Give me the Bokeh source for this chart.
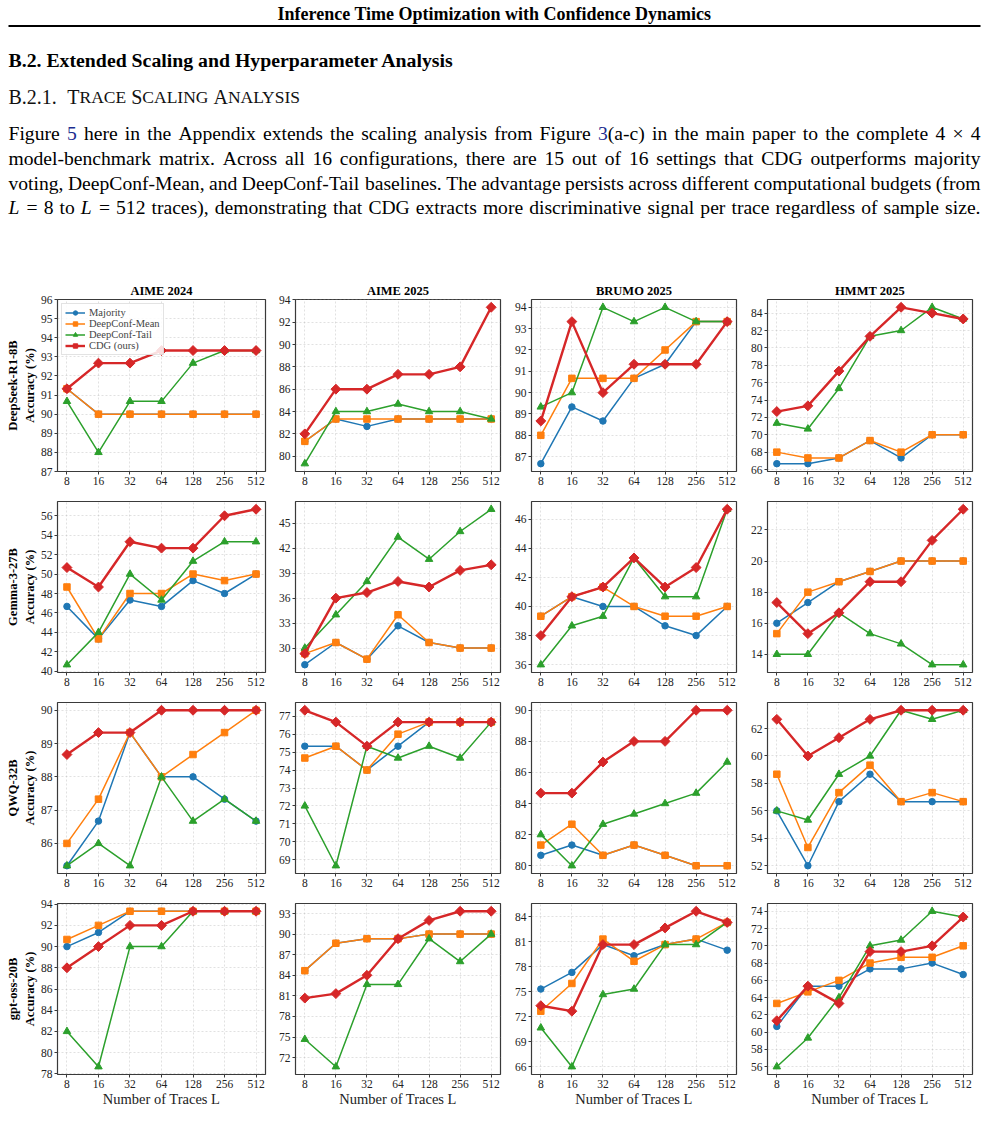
import math
import re

from bokeh.core.properties import value
from bokeh.embed import file_html
from bokeh.layouts import column, row
from bokeh.models import (FixedTicker, PrintfTickFormatter, Range1d,
                          SingleIntervalTicker, Title)
from bokeh.plotting import figure
from bokeh.resources import INLINE

# ---------------------------------------------------------------- data
TRACES = [8, 16, 32, 64, 128, 256, 512]
METHODS = ["Majority", "DeepConf-Mean", "DeepConf-Tail", "CDG (ours)"]
MODELS = ["DeepSeek-R1-8B", "Gemma-3-27B", "QWQ-32B", "gpt-oss-20B"]
BENCHMARKS = ["AIME 2024", "AIME 2025", "BRUMO 2025", "HMMT 2025"]

# DeepSeek-R1-8B
deepseek_aime24 = {
    "Majority":      [91.33, 90.0, 90.0, 90.0, 90.0, 90.0, 90.0],
    "DeepConf-Mean": [91.33, 90.0, 90.0, 90.0, 90.0, 90.0, 90.0],
    "DeepConf-Tail": [90.67, 88.0, 90.67, 90.67, 92.67, 93.33, 93.33],
    "CDG (ours)":    [91.33, 92.67, 92.67, 93.33, 93.33, 93.33, 93.33],
}
deepseek_aime25 = {
    "Majority":      [81.33, 83.33, 82.67, 83.33, 83.33, 83.33, 83.33],
    "DeepConf-Mean": [81.33, 83.33, 83.33, 83.33, 83.33, 83.33, 83.33],
    "DeepConf-Tail": [79.33, 84.0, 84.0, 84.67, 84.0, 84.0, 83.33],
    "CDG (ours)":    [82.0, 86.0, 86.0, 87.33, 87.33, 88.0, 93.33],
}
deepseek_brumo25 = {
    "Majority":      [86.67, 89.33, 88.67, 90.67, 91.33, 93.33, 93.33],
    "DeepConf-Mean": [88.0, 90.67, 90.67, 90.67, 92.0, 93.33, 93.33],
    "DeepConf-Tail": [89.33, 90.0, 94.0, 93.33, 94.0, 93.33, 93.33],
    "CDG (ours)":    [88.67, 93.33, 90.0, 91.33, 91.33, 91.33, 93.33],
}
deepseek_hmmt25 = {
    "Majority":      [66.67, 66.67, 67.33, 69.33, 67.33, 70.0, 70.0],
    "DeepConf-Mean": [68.0, 67.33, 67.33, 69.33, 68.0, 70.0, 70.0],
    "DeepConf-Tail": [71.33, 70.67, 75.33, 81.33, 82.0, 84.67, 83.33],
    "CDG (ours)":    [72.67, 73.33, 77.33, 81.33, 84.67, 84.0, 83.33],
}

# Gemma-3-27B
gemma_aime24 = {
    "Majority":      [46.67, 43.33, 47.33, 46.67, 49.33, 48.0, 50.0],
    "DeepConf-Mean": [48.67, 43.33, 48.0, 48.0, 50.0, 49.33, 50.0],
    "DeepConf-Tail": [40.67, 44.0, 50.0, 47.33, 51.33, 53.33, 53.33],
    "CDG (ours)":    [50.67, 48.67, 53.33, 52.67, 52.67, 56.0, 56.67],
}
gemma_aime25 = {
    "Majority":      [28.0, 30.67, 28.67, 32.67, 30.67, 30.0, 30.0],
    "DeepConf-Mean": [29.33, 30.67, 28.67, 34.0, 30.67, 30.0, 30.0],
    "DeepConf-Tail": [30.0, 34.0, 38.0, 43.33, 40.67, 44.0, 46.67],
    "CDG (ours)":    [29.33, 36.0, 36.67, 38.0, 37.33, 39.33, 40.0],
}
gemma_brumo25 = {
    "Majority":      [39.33, 40.67, 40.0, 40.0, 38.67, 38.0, 40.0],
    "DeepConf-Mean": [39.33, 40.67, 41.33, 40.0, 39.33, 39.33, 40.0],
    "DeepConf-Tail": [36.0, 38.67, 39.33, 43.33, 40.67, 40.67, 46.67],
    "CDG (ours)":    [38.0, 40.67, 41.33, 43.33, 41.33, 42.67, 46.67],
}
gemma_hmmt25 = {
    "Majority":      [16.0, 17.33, 18.67, 19.33, 20.0, 20.0, 20.0],
    "DeepConf-Mean": [15.33, 18.0, 18.67, 19.33, 20.0, 20.0, 20.0],
    "DeepConf-Tail": [14.0, 14.0, 16.67, 15.33, 14.67, 13.33, 13.33],
    "CDG (ours)":    [17.33, 15.33, 16.67, 18.67, 18.67, 21.33, 23.33],
}

# QWQ-32B
qwq_aime24 = {
    "Majority":      [85.33, 86.67, 89.33, 88.0, 88.0, 87.33, 86.67],
    "DeepConf-Mean": [86.0, 87.33, 89.33, 88.0, 88.67, 89.33, 90.0],
    "DeepConf-Tail": [85.33, 86.0, 85.33, 88.0, 86.67, 87.33, 86.67],
    "CDG (ours)":    [88.67, 89.33, 89.33, 90.0, 90.0, 90.0, 90.0],
}
qwq_aime25 = {
    "Majority":      [75.33, 75.33, 74.0, 75.33, 76.67, 76.67, 76.67],
    "DeepConf-Mean": [74.67, 75.33, 74.0, 76.0, 76.67, 76.67, 76.67],
    "DeepConf-Tail": [72.0, 68.67, 75.33, 74.67, 75.33, 74.67, 76.67],
    "CDG (ours)":    [77.33, 76.67, 75.33, 76.67, 76.67, 76.67, 76.67],
}
qwq_brumo25 = {
    "Majority":      [80.67, 81.33, 80.67, 81.33, 80.67, 80.0, 80.0],
    "DeepConf-Mean": [81.33, 82.67, 80.67, 81.33, 80.67, 80.0, 80.0],
    "DeepConf-Tail": [82.0, 80.0, 82.67, 83.33, 84.0, 84.67, 86.67],
    "CDG (ours)":    [84.67, 84.67, 86.67, 88.0, 88.0, 90.0, 90.0],
}
qwq_hmmt25 = {
    "Majority":      [56.0, 52.0, 56.67, 58.67, 56.67, 56.67, 56.67],
    "DeepConf-Mean": [58.67, 53.33, 57.33, 59.33, 56.67, 57.33, 56.67],
    "DeepConf-Tail": [56.0, 55.33, 58.67, 60.0, 63.33, 62.67, 63.33],
    "CDG (ours)":    [62.67, 60.0, 61.33, 62.67, 63.33, 63.33, 63.33],
}

# gpt-oss-20B
gptoss_aime24 = {
    "Majority":      [90.0, 91.33, 93.33, 93.33, 93.33, 93.33, 93.33],
    "DeepConf-Mean": [90.67, 92.0, 93.33, 93.33, 93.33, 93.33, 93.33],
    "DeepConf-Tail": [82.0, 78.67, 90.0, 90.0, 93.33, 93.33, 93.33],
    "CDG (ours)":    [88.0, 90.0, 92.0, 92.0, 93.33, 93.33, 93.33],
}
gptoss_aime25 = {
    "Majority":      [84.67, 88.67, 89.33, 89.33, 90.0, 90.0, 90.0],
    "DeepConf-Mean": [84.67, 88.67, 89.33, 89.33, 90.0, 90.0, 90.0],
    "DeepConf-Tail": [74.67, 70.67, 82.67, 82.67, 89.33, 86.0, 90.0],
    "CDG (ours)":    [80.67, 81.33, 84.0, 89.33, 92.0, 93.33, 93.33],
}
gptoss_brumo25 = {
    "Majority":      [75.33, 77.33, 80.67, 79.33, 80.67, 81.33, 80.0],
    "DeepConf-Mean": [72.67, 76.0, 81.33, 78.67, 80.67, 81.33, 83.33],
    "DeepConf-Tail": [70.67, 66.0, 74.67, 75.33, 80.67, 80.67, 83.33],
    "CDG (ours)":    [73.33, 72.67, 80.67, 80.67, 82.67, 84.67, 83.33],
}
gptoss_hmmt25 = {
    "Majority":      [60.67, 65.33, 65.33, 67.33, 67.33, 68.0, 66.67],
    "DeepConf-Mean": [63.33, 64.67, 66.0, 68.0, 68.67, 68.67, 70.0],
    "DeepConf-Tail": [56.0, 59.33, 64.0, 70.0, 70.67, 74.0, 73.33],
    "CDG (ours)":    [61.33, 65.33, 63.33, 69.33, 69.33, 70.0, 73.33],
}

PANELS = [
    [deepseek_aime24, deepseek_aime25, deepseek_brumo25, deepseek_hmmt25],
    [gemma_aime24, gemma_aime25, gemma_brumo25, gemma_hmmt25],
    [qwq_aime24, qwq_aime25, qwq_brumo25, qwq_hmmt25],
    [gptoss_aime24, gptoss_aime25, gptoss_brumo25, gptoss_hmmt25],
]

# y tick spacing per panel, and the one panel with a hand-set y range
Y_STEP = [[1, 2, 1, 2], [2, 3, 2, 2], [1, 1, 2, 2], [2, 3, 3, 2]]
Y_LIMITS = {(0, 0): (87, 96)}

# ---------------------------------------------------------------- page text
HEADER = "Inference Time Optimization with Confidence Dynamics"
SECTION = "B.2. Extended Scaling and Hyperparameter Analysis"
SUBSECTION = [("B.2.1.", "cap"), ("T", "cap"), ("RACE", "sc"), (" ", "cap"),
              ("S", "cap"), ("CALING", "sc"), (" ", "cap"),
              ("A", "cap"), ("NALYSIS", "sc")]
PARAGRAPH = [
    "Figure [5] here in the Appendix extends the scaling analysis from Figure [3](a-c) in the main paper to the complete 4 × 4",
    "model-benchmark matrix.  Across all 16 configurations, there are 15 out of 16 settings that CDG outperforms majority",
    "voting, DeepConf-Mean, and DeepConf-Tail baselines. The advantage persists across different computational budgets (from",
    "*L* = 8 to *L* = 512 traces), demonstrating that CDG extracts more discriminative signal per trace regardless of sample size.",
]

SERIF = "Liberation Serif"
LINK = "#1c2d8f"

# Times-Roman advance widths (1/1000 em), used to justify the paragraph
_W = {}
for _ch, _w in zip("abcdefghijklmnopqrstuvwxyz",
                   [444, 500, 444, 500, 444, 333, 500, 500, 278, 278, 500, 278, 778,
                    500, 500, 500, 500, 333, 389, 278, 500, 500, 722, 500, 500, 444]):
    _W[_ch] = _w
for _ch, _w in zip("ABCDEFGHIJKLMNOPQRSTUVWXYZ",
                   [722, 667, 667, 722, 611, 556, 722, 722, 333, 389, 722, 611, 889,
                    722, 722, 556, 722, 667, 556, 611, 722, 722, 944, 722, 722, 611]):
    _W[_ch] = _w
for _ch in "0123456789":
    _W[_ch] = 500
_W.update({" ": 250, ",": 250, ".": 250, "(": 333, ")": 333, "-": 333,
           "×": 564, "=": 564, "%": 833, ":": 278})


def text_width(s, size):
    return sum(_W.get(ch, 500) for ch in s) * size / 1000.0


# ---------------------------------------------------------------- page text figure
TEXT_H = 280
PAGE_W = 988
MARGIN_L, MARGIN_R = 8, 980

page = figure(width=PAGE_W, height=TEXT_H, x_range=Range1d(0, PAGE_W),
              y_range=Range1d(TEXT_H, 0), output_backend="svg",
              toolbar_location=None, min_border=0, title=None)
page.axis.visible = False
page.grid.visible = False
page.outline_line_color = None

page.text(x=[PAGE_W / 2], y=[13.5], text=[HEADER], text_font=value(SERIF),
          text_font_size="18px", text_font_style="bold", text_align="center",
          text_baseline="alphabetic", text_color="black")
page.line(x=[MARGIN_L, MARGIN_R], y=[25.5, 25.5], line_width=2, line_color="black")
page.text(x=[MARGIN_L], y=[59.5], text=[SECTION], text_font=value(SERIF),
          text_font_size="19.8px", text_font_style="bold", text_align="left",
          text_baseline="alphabetic", text_color="black")

# small-caps subsection heading
SC_CAP, SC_SMALL = 20, 17.5
sc_x, sc_t, sc_s = [], [], []
cx = MARGIN_L
for i, (piece, kind) in enumerate(SUBSECTION):
    size = SC_CAP if kind == "cap" else SC_SMALL
    if piece.strip():
        sc_x.append(cx)
        sc_t.append(piece)
        sc_s.append(f"{size}px")
    cx += text_width(piece, size)
    if i == 0:
        cx += 10.5
for x, t, s in zip(sc_x, sc_t, sc_s):
    page.text(x=[x], y=[96], text=[t], text_font=value(SERIF), text_font_size=s,
              text_align="left", text_baseline="alphabetic", text_color="#111111")

# justified paragraph
PARA_SIZE = 19.6
PARA_BASE = [132.5, 158.0, 182.5, 206.5]
groups = {"n": ([], [], []), "link": ([], [], []), "it": ([], [], [])}
for line, base in zip(PARAGRAPH, PARA_BASE):
    words = line.split()
    parsed = []
    for w in words:
        pieces = []
        for tok in re.split(r"(\[[^\]]+\]|\*[^*]+\*)", w):
            if not tok:
                continue
            if tok.startswith("["):
                pieces.append((tok[1:-1], "link"))
            elif tok.startswith("*"):
                pieces.append((tok[1:-1], "it"))
            else:
                pieces.append((tok, "n"))
        parsed.append(pieces)
    widths = [sum(text_width(t, PARA_SIZE) for t, _ in ps) for ps in parsed]
    gap = (MARGIN_R - MARGIN_L - sum(widths)) / (len(parsed) - 1)
    x = MARGIN_L
    for ps, wd in zip(parsed, widths):
        px = x
        for t, st in ps:
            gx, gy, gt = groups[st]
            gx.append(px)
            gy.append(base)
            gt.append(t)
            px += text_width(t, PARA_SIZE)
        x += wd + gap

for st, (gx, gy, gt) in groups.items():
    page.text(x=gx, y=gy, text=gt, text_font=value(SERIF),
              text_font_size=f"{PARA_SIZE}px",
              text_font_style="italic" if st == "it" else "normal",
              text_color=LINK if st == "link" else "black",
              text_align="left", text_baseline="alphabetic")

# ---------------------------------------------------------------- panels
STYLE = {
    "Majority":      dict(color="#1f77b4", marker="circle", size=6.5, lw=1.5, angle=0.0),
    "DeepConf-Mean": dict(color="#ff7f0e", marker="square", size=6.5, lw=1.5, angle=0.0),
    "DeepConf-Tail": dict(color="#2ca02c", marker="triangle", size=7.5, lw=1.5, angle=0.0),
    "CDG (ours)":    dict(color="#d62728", marker="square", size=7.0, lw=2.4, angle=math.pi / 4),
}
FRAME_W = 208
X_PAD = 2 ** 0.3
EDGE = "#3a3a3a"


def build_panel(r, c):
    panel = PANELS[r][c]
    left = 57 if c == 0 else 17
    right = {0: 10, 3: 16}.get(c, 11)
    top = 19 if r == 0 else 4
    bottom = 40 if r == 3 else 26
    fh = 172 if r == 0 else 171

    allv = [v for m in METHODS for v in panel[m]]
    lo, hi = min(allv), max(allv)
    pad = 0.05 * (hi - lo)
    ylo, yhi = Y_LIMITS.get((r, c), (lo - pad, hi + pad))

    p = figure(width=left + FRAME_W + right, height=top + fh + bottom,
               x_axis_type="log",
               x_range=Range1d(TRACES[0] / X_PAD, TRACES[-1] * X_PAD),
               y_range=Range1d(ylo, yhi),
               output_backend="svg", toolbar_location=None,
               title=BENCHMARKS[c] if r == 0 else None,
               min_border_left=left, min_border_right=right,
               min_border_top=top, min_border_bottom=bottom)
    if r == 0:
        p.title.align = "center"
        p.title.text_font = SERIF
        p.title.text_font_size = "12.5px"
        p.title.text_font_style = "bold"
        p.title.text_color = "black"
        p.title.standoff = 3
        p.title.offset = 0

    p.outline_line_color = EDGE
    p.outline_line_width = 1.2
    p.background_fill_color = "white"

    p.xaxis.ticker = FixedTicker(ticks=TRACES)
    p.xaxis.formatter = PrintfTickFormatter(format="%d")
    p.yaxis.ticker = SingleIntervalTicker(interval=Y_STEP[r][c], num_minor_ticks=0)
    for ax in (p.xaxis, p.yaxis):
        ax.axis_line_color = None
        ax.major_tick_line_color = EDGE
        ax.major_tick_out = 3
        ax.major_tick_in = 0
        ax.minor_tick_line_color = None
        ax.major_label_text_font = SERIF
        ax.major_label_text_font_size = "11.5px"
        ax.major_label_text_color = "#222222"
        ax.major_label_standoff = 2

    p.xgrid.ticker = FixedTicker(ticks=TRACES)
    for g in (p.xgrid, p.ygrid):
        g.grid_line_color = "#b8b8b8"
        g.grid_line_alpha = 0.6
        g.grid_line_dash = "2 2"
        g.grid_line_width = 0.7

    if r == 3:
        p.xaxis.axis_label = "Number of Traces L"
        p.xaxis.axis_label_text_font = SERIF
        p.xaxis.axis_label_text_font_size = "14.5px"
        p.xaxis.axis_label_text_font_style = "normal"
        p.xaxis.axis_label_text_color = "#222222"
        p.xaxis.axis_label_standoff = 0

    if c == 0:
        p.yaxis.axis_label = "Accuracy (%)"
        p.yaxis.axis_label_text_font = SERIF
        p.yaxis.axis_label_text_font_size = "12.5px"
        p.yaxis.axis_label_text_font_style = "bold"
        p.yaxis.axis_label_text_color = "black"
        p.yaxis.axis_label_standoff = 1
        p.add_layout(Title(text=MODELS[r], align="center", text_font=SERIF,
                           text_font_size="12.5px", text_font_style="bold",
                           text_color="black", standoff=0, offset=0), "left")

    show_legend = (r == 0 and c == 0)
    for m in METHODS:
        st = STYLE[m]
        extra = dict(legend_label=m) if show_legend else {}
        p.line(TRACES, panel[m], line_color=st["color"], line_width=st["lw"], **extra)
        p.scatter(TRACES, panel[m], marker=st["marker"], size=st["size"],
                  angle=st["angle"], fill_color=st["color"], line_color=st["color"],
                  line_width=1.0, **extra)

    if show_legend:
        lg = p.legend[0]
        lg.location = "top_left"
        lg.margin = 4
        lg.padding = 3
        lg.spacing = 0
        lg.label_text_font = SERIF
        lg.label_text_font_size = "10.5px"
        lg.label_height = 10
        lg.glyph_height = 11
        lg.glyph_width = 20
        lg.label_standoff = 4
        lg.border_line_color = "#c8c8c8"
        lg.border_line_width = 1
        lg.background_fill_alpha = 0.85
    return p


rows = [row(*[build_panel(r, c) for c in range(4)]) for r in range(4)]
layout = column(page, *rows)

open("out.html", "w").write(file_html(layout, INLINE))
